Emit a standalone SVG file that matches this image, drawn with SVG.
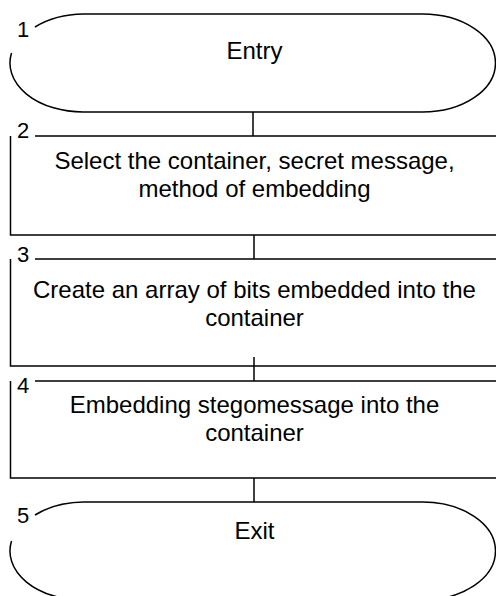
<svg xmlns="http://www.w3.org/2000/svg" width="496" height="596" viewBox="0 0 496 596">
<style>
.s{fill:none;stroke:#000;stroke-width:1.5}
.t{font-family:"Liberation Sans",Arial,sans-serif;font-size:24px;fill:#000;text-anchor:middle}
.n{font-family:"Liberation Sans",Arial,sans-serif;font-size:22px;fill:#000}
</style>
<rect width="496" height="596" fill="#fff"/>
<g id="connectors">
<path class="s" d="M253,112 V136"/>
<path class="s" d="M254,235 V259"/>
<path class="s" d="M254,357 V381"/>
<path class="s" d="M254,478 V502"/>
</g>
<g id="node1">
<path class="s" d="M35,27 A73,49 0 0 1 83.5,14 H422.5 A73,49 0 0 1 422.5,112 H83.5 A73,49 0 0 1 11.5,53"/>
<text class="n" x="17" y="37">1</text>
<text class="t" x="254.5" y="59">Entry</text>
</g>
<g id="node2">
<path class="s" d="M35,136 H498 M10.5,136 V235 H498"/>
<text class="n" x="17" y="138">2</text>
<text class="t" x="254.5" y="169">Select the container, secret message,</text>
<text class="t" x="254.5" y="197">method of embedding</text>
</g>
<g id="node3">
<path class="s" d="M35,259 H498 M10.5,259 V366 H498"/>
<text class="n" x="17" y="262">3</text>
<text class="t" x="254.5" y="298">Create an array of bits embedded into the</text>
<text class="t" x="254.5" y="326">container</text>
</g>
<g id="node4">
<path class="s" d="M35,381 H498 M10.5,381 V478 H498"/>
<text class="n" x="17" y="393">4</text>
<text class="t" x="254.5" y="413">Embedding stegomessage into the</text>
<text class="t" x="254.5" y="441">container</text>
</g>
<g id="node5">
<path class="s" d="M35,515 A73,49 0 0 1 83.5,502 H422.5 A73,49 0 0 1 422.5,600 H83.5 A73,49 0 0 1 11.5,541"/>
<text class="n" x="17" y="523">5</text>
<text class="t" x="254.5" y="539">Exit</text>
</g>
</svg>
